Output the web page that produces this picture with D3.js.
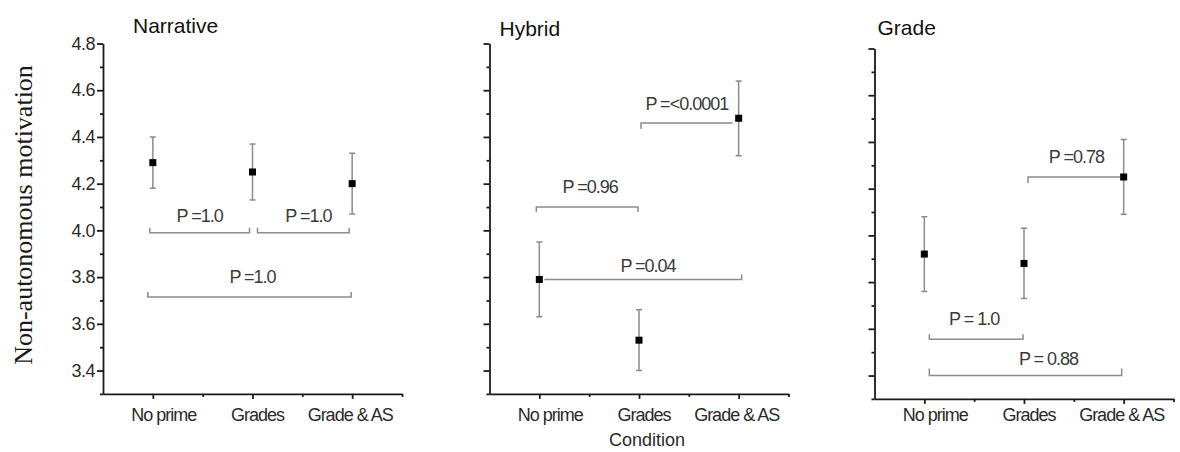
<!DOCTYPE html>
<html>
<head>
<meta charset="utf-8">
<script src="https://cdn.jsdelivr.net/npm/d3@7"></script>
<style>
  body { margin: 0; background: #fff; }
  text { font-family: "Liberation Sans", Arial, sans-serif; }
</style>
</head>
<body>
<script>
const width = 1180;
const height = 452;

// categories + ticks
const conditions = ["No prime", "Grades", "Grade & AS"];
const yTicks = [3.4, 3.6, 3.8, 4.0, 4.2, 4.4, 4.6, 4.8];

// Narrative
const narrativeMean = [4.29, 4.25, 4.20];
const narrativeLow = [4.18, 4.13, 4.07];
const narrativeHigh = [4.40, 4.37, 4.33];
const narrativePairs = [[0, 1], [1, 2], [0, 2]];
const narrativeLevels = [3.99, 3.99, 3.715];
const narrativeP = ["P =1.0", "P =1.0", "P =1.0"];

// Hybrid
const hybridMean = [3.79, 3.53, 4.48];
const hybridLow = [3.63, 3.40, 4.32];
const hybridHigh = [3.95, 3.66, 4.64];
const hybridPairs = [[0, 1], [1, 2], [0, 2]];
const hybridLevels = [4.10, 4.46, 3.79];
const hybridP = ["P =0.96", "P =<0.0001", "P =0.04"];

// Grade
const gradeMean = [3.92, 3.88, 4.25];
const gradeLow = [3.76, 3.73, 4.09];
const gradeHigh = [4.08, 4.03, 4.41];
const gradePairs = [[0, 1], [0, 2], [1, 2]];
const gradeLevels = [3.555, 3.40, 4.25];
const gradeP = ["P = 1.0", "P = 0.88", "P =0.78"];

// layout / styling per panel (not data)
// bracket style: [left inset, right inset, left tick, right tick, label dx, label gap]
const panels = [
    {
        title: "Narrative", left: 103, top: 43.5, titleDx: 30, titleY: 33, labels: true,
        mean: narrativeMean, low: narrativeLow, high: narrativeHigh,
        pairs: narrativePairs, levels: narrativeLevels, p: narrativeP,
        bstyle: [[-3, -3, -5, -5, 0, 11], [5, -3, -5, -5, 5, 11], [-5, -1, -5, -5, 3, 14]]
    },
    {
        title: "Hybrid", left: 489.5, top: 43.5, titleDx: 10, titleY: 36, labels: false,
        mean: hybridMean, low: hybridLow, high: hybridHigh,
        pairs: hybridPairs, levels: hybridLevels, p: hybridP,
        bstyle: [[-3, -1, 5, 5, 3, 14], [2, -6, 6, 0, 0, 13], [5, 3, 0, -5, 5, 7]]
    },
    {
        title: "Grade", left: 874.5, top: 48.5, titleDx: 3, titleY: 35, labels: false,
        mean: gradeMean, low: gradeLow, high: gradeHigh,
        pairs: gradePairs, levels: gradeLevels, p: gradeP,
        bstyle: [[5, -1, -5, -5, -2, 14], [5, -2, -7, -7, 23, 11], [4, -3, 6, 0, 2, 14]]
    }
];

let svg = d3.select("body")
    .append("svg")
    .attr("width", width)
    .attr("height", height);

const unit = 233.6; // px per 1.0 on y

panels.forEach((p, pi) => {
    let xScale = d3.scaleLinear()
        .domain([-0.5, 2.5])
        .range([p.left, p.left + 299]);

    let yScale = d3.scaleLinear()
        .domain([3.3, 4.8])
        .range([p.top + 1.5 * unit, p.top]);

    let bottom = yScale(3.3);
    let g = svg.append("g");

    // title
    g.append("text")
        .attr("x", p.left + p.titleDx)
        .attr("y", p.titleY)
        .style("font-size", "21px")
        .attr("fill", "#111")
        .text(p.title);

    // minor y ticks
    let minorY = d3.range(3.3, 4.75, 0.2);
    g.append("g")
        .attr("transform", `translate(${p.left}, 0)`)
        .call(d3.axisLeft(yScale).tickValues(minorY).tickSize(3).tickFormat(""))
        .call(a => a.select(".domain").remove());

    let leftAxis = d3.axisLeft(yScale)
        .tickValues(yTicks)
        .tickSize(6)
        .tickSizeOuter(0)
        .tickPadding(2)
        .tickFormat(p.labels ? d3.format(".1f") : "");

    let yAx = g.append("g")
        .attr("transform", `translate(${p.left}, 0)`)
        .call(leftAxis);

    yAx.selectAll("text")
        .style("font-size", "18px")
        .style("letter-spacing", "-0.5px")
        .attr("fill", "#2a2a2a");

    // x axis
    g.append("g")
        .attr("transform", `translate(0, ${bottom})`)
        .call(d3.axisBottom(xScale).tickValues([0.5, 1.5, 2.5]).tickSize(3).tickFormat(""))
        .call(a => a.select(".domain").remove());

    g.append("g")
        .attr("transform", `translate(0, ${bottom})`)
        .call(d3.axisBottom(xScale).tickValues([0, 1, 2]).tickSize(5).tickSizeOuter(0).tickFormat(""));

    g.selectAll(".domain, .tick line")
        .attr("stroke", "#1a1a1a")
        .attr("stroke-width", 1.8);

    // category labels
    g.selectAll(".cat")
        .data(conditions)
        .join("text")
        .attr("class", "cat")
        .attr("x", (d, i) => xScale(i) + [11, 5, -2][i])
        .attr("y", 421)
        .attr("text-anchor", "middle")
        .style("font-size", "18px")
        .style("letter-spacing", "-1px")
        .attr("fill", "#2a2a2a")
        .text(d => d);

    // brackets
    p.pairs.forEach((pair, k) => {
        let s = p.bstyle[k];
        let x1 = xScale(pair[0]) + s[0];
        let x2 = xScale(pair[1]) + s[1];
        let y = yScale(p.levels[k]);
        g.append("path")
            .attr("d", `M${x1},${y + s[2]}V${y}H${x2}V${y + s[3]}`)
            .attr("fill", "none")
            .attr("stroke", "#8c8c8c")
            .attr("stroke-width", 1.5);
        g.append("text")
            .attr("x", (x1 + x2) / 2 + s[4])
            .attr("y", y - s[5])
            .attr("text-anchor", "middle")
            .style("font-size", "18px")
            .style("letter-spacing", "-1px")
            .attr("fill", "#3a3a3a")
            .text(p.p[k]);
    });

    // error bars
    let idx = d3.range(conditions.length);
    g.selectAll(".err")
        .data(idx)
        .join("path")
        .attr("class", "err")
        .attr("d", i => {
            let x = xScale(i), hi = yScale(p.high[i]), lo = yScale(p.low[i]);
            return `M${x - 3},${hi}H${x + 3}M${x},${hi}V${lo}M${x - 3},${lo}H${x + 3}`;
        })
        .attr("fill", "none")
        .attr("stroke", "#8c8c8c")
        .attr("stroke-width", 1.5);

    g.selectAll(".pt")
        .data(idx)
        .join("rect")
        .attr("class", "pt")
        .attr("x", i => xScale(i) - 3.5)
        .attr("y", i => yScale(p.mean[i]) - 3.5)
        .attr("width", 7)
        .attr("height", 7)
        .attr("fill", "#000");
});

// axis titles
svg.append("text")
    .attr("transform", "translate(32, 215) rotate(-90)")
    .attr("text-anchor", "middle")
    .style("font-family", "'Liberation Serif', 'Times New Roman', serif")
    .style("font-size", "26px")
    .attr("fill", "#1a1a1a")
    .text("Non-autonomous motivation");

svg.append("text")
    .attr("x", 647)
    .attr("y", 446)
    .attr("text-anchor", "middle")
    .style("font-size", "18px")
    .attr("fill", "#2a2a2a")
    .text("Condition");
</script>
</body>
</html>
